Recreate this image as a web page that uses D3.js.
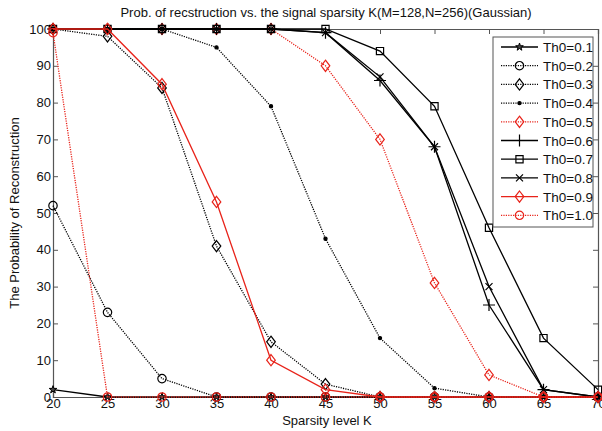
<!DOCTYPE html>
<html><head><meta charset="utf-8">
<script src="https://cdn.jsdelivr.net/npm/d3@7"></script>
<style>body{margin:0;background:#fff;}svg{display:block;font-family:"Liberation Sans",Arial,sans-serif;}</style>
</head><body><svg id="c" width="602" height="431"></svg>
<script>
const kValues = [20,25,30,35,40,45,50,55,60,65,70];
const th01 = [2,0,0,0,0,0,0,0,0,0,0];
const th02 = [52,23,5,0,0,0,0,0,0,0,0];
const th03 = [100,98,84,41,15,3.5,0,0,0,0,0];
const th04 = [100,100,100,95,79,43,16,2.4,0,0,0];
const th05 = [100,100,100,100,100,90,70,31,6,0,0];
const th06 = [100,100,100,100,100,99,86,68,25,2,0];
const th07 = [100,100,100,100,100,100,94,79,46,16,2];
const th08 = [100,100,100,100,100,99,87,68,30,2,0];
const th09 = [100,100,85,53,10,2,0,0,0,0,0];
const th10 = [99,0,0,0,0,0,0,0,0,0,0];
const seriesNames = ["Th0=0.1","Th0=0.2","Th0=0.3","Th0=0.4","Th0=0.5","Th0=0.6","Th0=0.7","Th0=0.8","Th0=0.9","Th0=1.0"];
const yTicks = [0,10,20,30,40,50,60,70,80,90,100];
const xTicks = [20,25,30,35,40,45,50,55,60,65,70];
const titleText = "Prob. of recstruction vs. the signal sparsity K(M=128,N=256)(Gaussian)";
const xLabel = "Sparsity level K";
const yLabel = "The Probability of Reconstruction";

const styles = [
  {c:"#000", dash:null, m:"star"},
  {c:"#000", dash:"1.2,1.2", m:"circle"},
  {c:"#000", dash:"1.2,1.2", m:"diamond"},
  {c:"#000", dash:"1.2,1.2", m:"dot"},
  {c:"#e8231a", dash:"1.2,1.2", m:"diamond"},
  {c:"#000", dash:null, m:"plus"},
  {c:"#000", dash:null, m:"square"},
  {c:"#000", dash:null, m:"x"},
  {c:"#e8231a", dash:null, m:"diamond"},
  {c:"#e8231a", dash:"1.2,1.2", m:"circle"}
];
const allSeries = [th01,th02,th03,th04,th05,th06,th07,th08,th09,th10];

const svg = d3.select("#c");
const L=53, R=598, T=29, B=397;
const x = d3.scaleLinear().domain([20,70]).range([L,R]);
const y = d3.scaleLinear().domain([0,100]).range([B,T]);

const axCol = "#555";
const g = svg.append("g");
const xb = d3.axisBottom(x).tickValues(xTicks).tickSize(-5).tickPadding(2);
const xt = d3.axisTop(x).tickValues(xTicks).tickSize(-5).tickFormat("");
const yl = d3.axisLeft(y).tickValues(yTicks).tickSize(-5).tickPadding(2);
const yr = d3.axisRight(y).tickValues(yTicks).tickSize(-5).tickFormat("");
function styleAx(sel){
  sel.selectAll("path").attr("stroke",axCol).attr("stroke-width",1.2);
  sel.selectAll("line").attr("stroke",axCol).attr("stroke-width",1);
  sel.selectAll("text").attr("fill","#111").style("font-size","13px").style("font-family","'Liberation Sans',Arial,sans-serif");
}
g.append("g").attr("transform",`translate(0,${B})`).call(xb).call(styleAx);
g.append("g").attr("transform",`translate(0,${T})`).call(xt).call(styleAx);
g.append("g").attr("transform",`translate(${L},0)`).call(yl).call(styleAx);
g.append("g").attr("transform",`translate(${R},0)`).call(yr).call(styleAx);

function markerPath(m){
  switch(m){
    case "circle": { const r=4.2; return `M${r},0A${r},${r} 0 1,1 ${-r},0A${r},${r} 0 1,1 ${r},0Z`; }
    case "diamond": { const w=4.3,h=5.6; return `M0,${-h}L${w},0L0,${h}L${-w},0Z`; }
    case "square": { const a=3.6; return `M${-a},${-a}H${a}V${a}H${-a}Z`; }
    case "plus": { const a=6; return `M${-a},0H${a}M0,${-a}V${a}`; }
    case "x": { const a=3.5; return `M${-a},${-a}L${a},${a}M${-a},${a}L${a},${-a}`; }
    case "star": return d3.symbol(d3.symbolStar, 18)();
    case "dot": { const r=1.6; return `M${r},0A${r},${r} 0 1,1 ${-r},0A${r},${r} 0 1,1 ${r},0Z`; }
  }
}
function drawMarker(sel, st, cx, cy){
  const p = sel.append("path").attr("d", markerPath(st.m)).attr("transform",`translate(${cx},${cy})`)
    .attr("stroke", st.c).attr("stroke-width",st.m==="star"?1:1.2);
  if(st.m==="dot") p.attr("fill",st.c); else if(st.m==="star") p.attr("fill","#444"); else p.attr("fill","none");
}

const line = d3.line().x((d,i)=>x(kValues[i])).y(d=>y(d));
const plot = svg.append("g");
allSeries.forEach((vals,si)=>{
  const st = styles[si];
  const sg = plot.append("g");
  sg.append("path").datum(vals).attr("d",line).attr("fill","none").attr("stroke",st.c)
    .attr("stroke-width",1.3).attr("stroke-dasharray",st.dash);
  vals.forEach((v,i)=>drawMarker(sg, st, x(kValues[i]), y(v)));
});

svg.append("text").attr("x",326).attr("y",17).attr("text-anchor","middle").style("font-size","13px").attr("fill","#111").text(titleText);
svg.append("text").attr("x",327).attr("y",425).attr("text-anchor","middle").style("font-size","13px").attr("fill","#111").text(xLabel);
svg.append("text").attr("transform","translate(19,213) rotate(-90)").attr("text-anchor","middle").style("font-size","13px").attr("fill","#111").text(yLabel);

const lg = svg.append("g");
lg.append("rect").attr("x",493).attr("y",37).attr("width",100).attr("height",190).attr("fill","#fff").attr("stroke",axCol).attr("stroke-width",1);
seriesNames.forEach((n,i)=>{
  const st = styles[i];
  const yy = 47 + i*18.7;
  lg.append("line").attr("x1",501).attr("x2",538).attr("y1",yy).attr("y2",yy).attr("stroke",st.c).attr("stroke-width",1.3).attr("stroke-dasharray",st.dash);
  drawMarker(lg, st, 519.5, yy);
  lg.append("text").attr("x",543).attr("y",yy+5).style("font-size","13.5px").attr("fill","#111").text(n);
});
</script></body></html>
